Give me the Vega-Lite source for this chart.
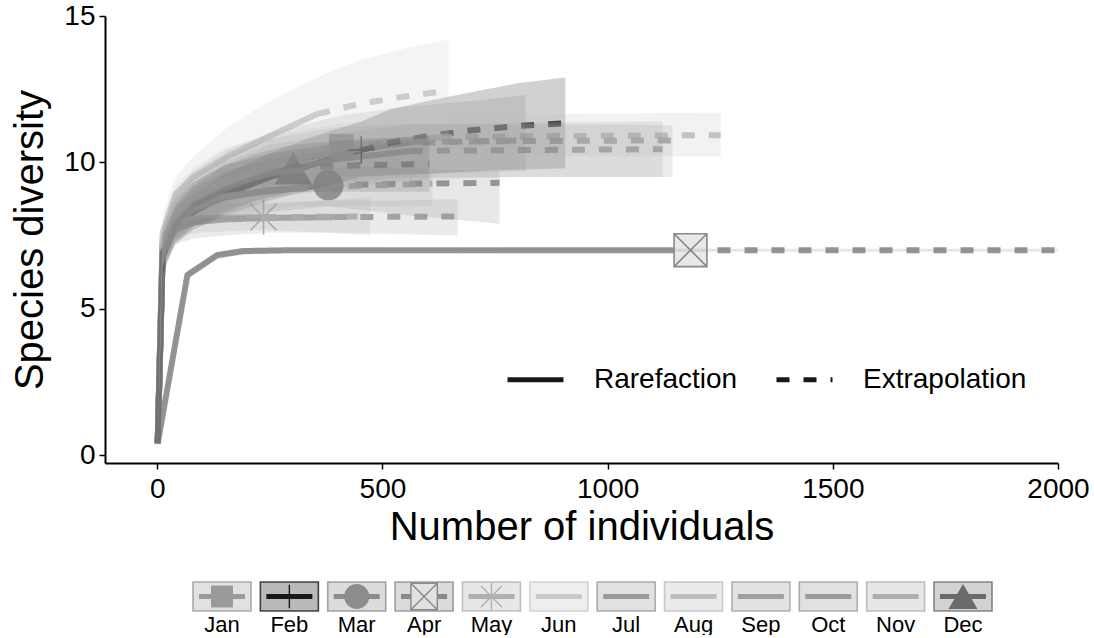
{
  "$schema": "https://vega.github.io/schema/vega-lite/v6.json",
  "padding": {"left": 10, "top": 2, "right": 5, "bottom": 0},
  "bounds": "flush",
  "spacing": 119,
  "config": {
    "font": "Liberation Sans",
    "view": {"stroke": null},
    "axis": {"labelColor": "#000", "titleColor": "#000", "titleFontWeight": "normal", "grid": false}
  },
  "resolve": {"scale": {"size": "independent", "x": "independent", "y": "independent"}},
  "datasets": {
    "curves": [
      {"m":"Jan","N":1,"S":0.4,"lo":0.3,"hi":0.5,"t":"rare"},
      {"m":"Jan","N":12,"S":7.2,"lo":6.6,"hi":7.8,"t":"rare"},
      {"m":"Jan","N":40,"S":8.4,"lo":7.8,"hi":9.0,"t":"rare"},
      {"m":"Jan","N":80,"S":9.0,"lo":8.3,"hi":9.7,"t":"rare"},
      {"m":"Jan","N":150,"S":9.6,"lo":8.8,"hi":10.4,"t":"rare"},
      {"m":"Jan","N":250,"S":10.1,"lo":9.2,"hi":11.0,"t":"rare"},
      {"m":"Jan","N":409,"S":10.55,"lo":9.5,"hi":11.6,"t":"obs"},
      {"m":"Jan","N":550,"S":10.65,"lo":9.6,"hi":11.9,"t":"extra"},
      {"m":"Jan","N":700,"S":10.72,"lo":9.65,"hi":12.1,"t":"extra"},
      {"m":"Jan","N":818,"S":10.75,"lo":9.7,"hi":12.3,"t":"extra"},

      {"m":"Feb","N":1,"S":0.4,"lo":0.3,"hi":0.5,"t":"rare"},
      {"m":"Feb","N":12,"S":6.8,"lo":6.2,"hi":7.4,"t":"rare"},
      {"m":"Feb","N":40,"S":7.8,"lo":7.2,"hi":8.4,"t":"rare"},
      {"m":"Feb","N":80,"S":8.3,"lo":7.7,"hi":8.9,"t":"rare"},
      {"m":"Feb","N":150,"S":8.9,"lo":8.2,"hi":9.6,"t":"rare"},
      {"m":"Feb","N":250,"S":9.5,"lo":8.7,"hi":10.3,"t":"rare"},
      {"m":"Feb","N":350,"S":9.95,"lo":9.1,"hi":10.9,"t":"rare"},
      {"m":"Feb","N":453,"S":10.42,"lo":9.5,"hi":11.4,"t":"obs"},
      {"m":"Feb","N":515,"S":10.66,"lo":9.55,"hi":11.8,"t":"extra"},
      {"m":"Feb","N":600,"S":10.9,"lo":9.6,"hi":12.1,"t":"extra"},
      {"m":"Feb","N":700,"S":11.1,"lo":9.7,"hi":12.4,"t":"extra"},
      {"m":"Feb","N":800,"S":11.24,"lo":9.75,"hi":12.7,"t":"extra"},
      {"m":"Feb","N":906,"S":11.34,"lo":9.8,"hi":12.9,"t":"extra"},

      {"m":"Mar","N":1,"S":0.4,"lo":0.3,"hi":0.5,"t":"rare"},
      {"m":"Mar","N":12,"S":7.0,"lo":6.4,"hi":7.6,"t":"rare"},
      {"m":"Mar","N":40,"S":7.9,"lo":7.3,"hi":8.5,"t":"rare"},
      {"m":"Mar","N":80,"S":8.4,"lo":7.8,"hi":9.0,"t":"rare"},
      {"m":"Mar","N":150,"S":8.8,"lo":8.1,"hi":9.5,"t":"rare"},
      {"m":"Mar","N":250,"S":9.05,"lo":8.3,"hi":9.8,"t":"rare"},
      {"m":"Mar","N":380,"S":9.22,"lo":8.5,"hi":9.9,"t":"obs"},
      {"m":"Mar","N":550,"S":9.27,"lo":8.2,"hi":9.8,"t":"extra"},
      {"m":"Mar","N":760,"S":9.3,"lo":7.9,"hi":9.7,"t":"extra"},

      {"m":"Apr","N":1,"S":0.4,"lo":0.35,"hi":0.45,"t":"rare"},
      {"m":"Apr","N":67,"S":6.15,"lo":6.0,"hi":6.3,"t":"rare"},
      {"m":"Apr","N":133,"S":6.83,"lo":6.7,"hi":6.95,"t":"rare"},
      {"m":"Apr","N":191,"S":6.97,"lo":6.85,"hi":7.08,"t":"rare"},
      {"m":"Apr","N":300,"S":7.0,"lo":6.92,"hi":7.08,"t":"rare"},
      {"m":"Apr","N":1184,"S":7.0,"lo":6.95,"hi":7.05,"t":"obs"},
      {"m":"Apr","N":1600,"S":7.0,"lo":6.95,"hi":7.05,"t":"extra"},
      {"m":"Apr","N":2000,"S":7.0,"lo":6.95,"hi":7.05,"t":"extra"},

      {"m":"May","N":1,"S":0.4,"lo":0.3,"hi":0.5,"t":"rare"},
      {"m":"May","N":12,"S":7.3,"lo":6.8,"hi":7.8,"t":"rare"},
      {"m":"May","N":44,"S":8.0,"lo":7.5,"hi":8.5,"t":"rare"},
      {"m":"May","N":100,"S":8.1,"lo":7.6,"hi":8.6,"t":"rare"},
      {"m":"May","N":236,"S":8.13,"lo":7.7,"hi":8.6,"t":"obs"},
      {"m":"May","N":360,"S":8.14,"lo":7.6,"hi":8.7,"t":"extra"},
      {"m":"May","N":472,"S":8.15,"lo":7.5,"hi":8.8,"t":"extra"},

      {"m":"Jun","N":1,"S":0.4,"lo":0.3,"hi":0.5,"t":"rare"},
      {"m":"Jun","N":12,"S":7.6,"lo":7.0,"hi":8.2,"t":"rare"},
      {"m":"Jun","N":40,"S":8.9,"lo":8.2,"hi":9.5,"t":"rare"},
      {"m":"Jun","N":80,"S":9.5,"lo":8.7,"hi":10.2,"t":"rare"},
      {"m":"Jun","N":156,"S":10.2,"lo":9.2,"hi":11.2,"t":"rare"},
      {"m":"Jun","N":250,"S":10.9,"lo":9.7,"hi":12.1,"t":"rare"},
      {"m":"Jun","N":355,"S":11.65,"lo":10.2,"hi":12.9,"t":"obs"},
      {"m":"Jun","N":450,"S":12.0,"lo":10.5,"hi":13.5,"t":"extra"},
      {"m":"Jun","N":550,"S":12.25,"lo":10.7,"hi":13.9,"t":"extra"},
      {"m":"Jun","N":647,"S":12.45,"lo":10.8,"hi":14.2,"t":"extra"},

      {"m":"Jul","N":1,"S":0.4,"lo":0.3,"hi":0.5,"t":"rare"},
      {"m":"Jul","N":12,"S":7.0,"lo":6.4,"hi":7.6,"t":"rare"},
      {"m":"Jul","N":40,"S":8.0,"lo":7.4,"hi":8.6,"t":"rare"},
      {"m":"Jul","N":80,"S":8.6,"lo":7.9,"hi":9.3,"t":"rare"},
      {"m":"Jul","N":150,"S":9.2,"lo":8.4,"hi":10.0,"t":"rare"},
      {"m":"Jul","N":250,"S":9.7,"lo":8.8,"hi":10.6,"t":"rare"},
      {"m":"Jul","N":400,"S":10.1,"lo":9.1,"hi":11.0,"t":"rare"},
      {"m":"Jul","N":561,"S":10.39,"lo":9.4,"hi":11.3,"t":"obs"},
      {"m":"Jul","N":800,"S":10.42,"lo":9.5,"hi":11.35,"t":"extra"},
      {"m":"Jul","N":1122,"S":10.45,"lo":9.5,"hi":11.4,"t":"extra"},

      {"m":"Aug","N":1,"S":0.4,"lo":0.3,"hi":0.5,"t":"rare"},
      {"m":"Aug","N":12,"S":7.4,"lo":6.9,"hi":7.9,"t":"rare"},
      {"m":"Aug","N":40,"S":8.6,"lo":8.0,"hi":9.2,"t":"rare"},
      {"m":"Aug","N":80,"S":9.2,"lo":8.6,"hi":9.8,"t":"rare"},
      {"m":"Aug","N":150,"S":9.8,"lo":9.1,"hi":10.5,"t":"rare"},
      {"m":"Aug","N":250,"S":10.2,"lo":9.5,"hi":10.9,"t":"rare"},
      {"m":"Aug","N":400,"S":10.55,"lo":9.8,"hi":11.3,"t":"rare"},
      {"m":"Aug","N":625,"S":10.86,"lo":10.1,"hi":11.6,"t":"obs"},
      {"m":"Aug","N":900,"S":10.9,"lo":10.2,"hi":11.65,"t":"extra"},
      {"m":"Aug","N":1251,"S":10.93,"lo":10.2,"hi":11.7,"t":"extra"},

      {"m":"Sep","N":1,"S":0.4,"lo":0.3,"hi":0.5,"t":"rare"},
      {"m":"Sep","N":12,"S":7.1,"lo":6.5,"hi":7.7,"t":"rare"},
      {"m":"Sep","N":40,"S":8.2,"lo":7.6,"hi":8.8,"t":"rare"},
      {"m":"Sep","N":80,"S":8.8,"lo":8.1,"hi":9.5,"t":"rare"},
      {"m":"Sep","N":150,"S":9.4,"lo":8.6,"hi":10.2,"t":"rare"},
      {"m":"Sep","N":250,"S":9.9,"lo":9.0,"hi":10.8,"t":"rare"},
      {"m":"Sep","N":400,"S":10.35,"lo":9.3,"hi":11.2,"t":"rare"},
      {"m":"Sep","N":572,"S":10.7,"lo":9.5,"hi":11.3,"t":"obs"},
      {"m":"Sep","N":850,"S":10.73,"lo":9.5,"hi":11.3,"t":"extra"},
      {"m":"Sep","N":1144,"S":10.75,"lo":9.5,"hi":11.27,"t":"extra"},

      {"m":"Oct","N":1,"S":0.4,"lo":0.3,"hi":0.5,"t":"rare"},
      {"m":"Oct","N":12,"S":6.9,"lo":6.4,"hi":7.4,"t":"rare"},
      {"m":"Oct","N":40,"S":7.7,"lo":7.2,"hi":8.2,"t":"rare"},
      {"m":"Oct","N":80,"S":7.95,"lo":7.4,"hi":8.5,"t":"rare"},
      {"m":"Oct","N":150,"S":8.05,"lo":7.5,"hi":8.6,"t":"rare"},
      {"m":"Oct","N":250,"S":8.1,"lo":7.6,"hi":8.6,"t":"rare"},
      {"m":"Oct","N":391,"S":8.13,"lo":7.6,"hi":8.7,"t":"obs"},
      {"m":"Oct","N":530,"S":8.14,"lo":7.55,"hi":8.7,"t":"extra"},
      {"m":"Oct","N":667,"S":8.15,"lo":7.5,"hi":8.75,"t":"extra"},

      {"m":"Nov","N":1,"S":0.4,"lo":0.3,"hi":0.5,"t":"rare"},
      {"m":"Nov","N":12,"S":7.1,"lo":6.5,"hi":7.7,"t":"rare"},
      {"m":"Nov","N":40,"S":8.1,"lo":7.5,"hi":8.7,"t":"rare"},
      {"m":"Nov","N":80,"S":8.5,"lo":7.9,"hi":9.1,"t":"rare"},
      {"m":"Nov","N":150,"S":8.85,"lo":8.2,"hi":9.5,"t":"rare"},
      {"m":"Nov","N":305,"S":9.1,"lo":8.5,"hi":9.8,"t":"obs"},
      {"m":"Nov","N":450,"S":9.2,"lo":8.5,"hi":9.95,"t":"extra"},
      {"m":"Nov","N":611,"S":9.27,"lo":8.5,"hi":10.08,"t":"extra"},

      {"m":"Dec","N":1,"S":0.4,"lo":0.3,"hi":0.5,"t":"rare"},
      {"m":"Dec","N":12,"S":6.9,"lo":6.3,"hi":7.5,"t":"rare"},
      {"m":"Dec","N":40,"S":7.9,"lo":7.3,"hi":8.5,"t":"rare"},
      {"m":"Dec","N":80,"S":8.5,"lo":7.8,"hi":9.2,"t":"rare"},
      {"m":"Dec","N":150,"S":9.1,"lo":8.3,"hi":9.9,"t":"rare"},
      {"m":"Dec","N":220,"S":9.5,"lo":8.7,"hi":10.3,"t":"rare"},
      {"m":"Dec","N":302,"S":9.8,"lo":9.0,"hi":10.6,"t":"obs"},
      {"m":"Dec","N":450,"S":9.9,"lo":9.0,"hi":10.8,"t":"extra"},
      {"m":"Dec","N":604,"S":9.95,"lo":9.0,"hi":10.9,"t":"extra"}
    ],
    "months": [
      {"m":"Jan"},{"m":"Feb"},{"m":"Mar"},{"m":"Apr"},{"m":"May"},{"m":"Jun"},
      {"m":"Jul"},{"m":"Aug"},{"m":"Sep"},{"m":"Oct"},{"m":"Nov"},{"m":"Dec"}
    ]
  },
  "vconcat": [
    {
      "width": 953,
      "height": 447,
      "data": {"name": "curves"},
      "encoding": {
        "x": {
          "field": "N", "type": "quantitative",
          "scale": {"domain": [-116, 2000], "nice": false, "zero": false},
          "title": "Number of individuals",
          "axis": {"values": [0, 500, 1000, 1500, 2000], "format": "d", "domainColor": "#000", "domainWidth": 2, "tickColor": "#000", "tickWidth": 1.5, "tickSize": 6, "labelFontSize": 28, "labelPadding": 6, "labelFlush": false, "titleFontSize": 40, "titlePadding": 4}
        }
      },
      "layer": [
        {
          "transform": [{"filter": "datum.t != 'extra'"}],
          "mark": {"type": "line", "strokeWidth": 6, "opacity": 0.9, "strokeCap": "butt"},
          "encoding": {
            "y": {"field": "S", "type": "quantitative",
              "scale": {"domain": [-0.27, 15], "nice": false, "zero": false},
              "title": "Species diversity",
              "axis": {"values": [0, 5, 10, 15], "domainColor": "#000", "domainWidth": 2, "tickColor": "#000", "tickWidth": 1.5, "tickSize": 6, "labelFontSize": 28, "labelPadding": 4, "labelFlush": false, "titleFontSize": 40, "titlePadding": 13}},
            "color": {"field": "m", "type": "nominal", "legend": null,
              "scale": {"domain": ["Jan","Feb","Mar","Apr","May","Jun","Jul","Aug","Sep","Oct","Nov","Dec"],
                "range": ["#9a9a9a","#1a1a1a","#8c8c8c","#888888","#b0b0b0","#c8c8c8","#9a9a9a","#bdbdbd","#a0a0a0","#9c9c9c","#aeaeae","#6a6a6a"]}},
            "strokeDash": {"datum": "Rarefaction", "type": "nominal",
              "scale": {"domain": ["Rarefaction", "Extrapolation"], "range": [[1, 0], [13, 14]]},
              "legend": {"title": null, "orient": "none", "legendX": 400, "legendY": 333, "direction": "horizontal", "symbolType": "stroke", "symbolStrokeWidth": 5, "symbolSize": 3136, "symbolStrokeColor": "#000", "labelFontSize": 28, "labelColor": "#000", "labelOffset": 28, "labelLimit": 0, "columnPadding": 28, "padding": 0}}
          }
        },
        {
          "transform": [{"filter": "datum.t != 'rare'"}],
          "mark": {"type": "line", "strokeWidth": 6, "opacity": 0.9, "strokeCap": "butt"},
          "encoding": {
            "y": {"field": "S", "type": "quantitative"},
            "color": {"field": "m", "type": "nominal", "legend": null},
            "strokeDash": {"datum": "Extrapolation", "type": "nominal"}
          }
        },
        {
          "transform": [{"filter": "datum.t == 'obs' && (datum.m == 'Jan' || datum.m == 'Mar' || datum.m == 'Dec')"}],
          "mark": {"type": "point", "filled": true, "opacity": 1},
          "encoding": {
            "y": {"field": "S", "type": "quantitative"},
            "color": {"field": "m", "type": "nominal", "legend": null},
            "shape": {"field": "m", "type": "nominal", "legend": null,
              "scale": {"domain": ["Jan","Feb","Mar","Apr","May","Dec"],
                "range": ["square", "M-1,0L1,0M0,-1L0,1", "circle", "M-1,-1L1,-1L1,1L-1,1ZM-1,-1L1,1M-1,1L1,-1", "M-1,0L1,0M0,-1L0,1M-0.75,-0.75L0.75,0.75M-0.75,0.75L0.75,-0.75", "triangle-up"]}},
            "size": {"field": "m", "type": "nominal", "legend": null,
              "scale": {"domain": ["Jan","Feb","Mar","Apr","May","Dec"], "range": [600, 1400, 620, 730, 950, 150]}}
          }
        },
        {
          "transform": [{"filter": "datum.t == 'obs' && (datum.m == 'Feb' || datum.m == 'Apr' || datum.m == 'May')"}],
          "mark": {"type": "point", "filled": false, "fill": "#e8e8e8", "strokeWidth": 1.6, "opacity": 1},
          "encoding": {
            "y": {"field": "S", "type": "quantitative"},
            "color": {"field": "m", "type": "nominal", "legend": null},
            "shape": {"field": "m", "type": "nominal", "legend": null},
            "size": {"field": "m", "type": "nominal", "legend": null}
          }
        },
        {
          "mark": {"type": "area", "opacity": 0.2},
          "encoding": {
            "y": {"field": "lo", "type": "quantitative"},
            "y2": {"field": "hi"},
            "fill": {"field": "m", "type": "nominal", "legend": null,
              "scale": {"domain": ["Jan","Feb","Mar","Apr","May","Jun","Jul","Aug","Sep","Oct","Nov","Dec"],
                "range": ["#9a9a9a","#1a1a1a","#8c8c8c","#888888","#b0b0b0","#c8c8c8","#9a9a9a","#bdbdbd","#a0a0a0","#9c9c9c","#aeaeae","#6a6a6a"]}}
          }
        }
      ]
    },
    {
      "width": 953,
      "height": 29,
      "data": {"name": "months"},
      "encoding": {
        "x": {"field": "m", "type": "nominal", "sort": null, "title": null,
          "scale": {"domain": ["Jan","Feb","Mar","Apr","May","Jun","Jul","Aug","Sep","Oct","Nov","Dec"], "range": [88, 887], "paddingInner": 0.139, "paddingOuter": 0},
          "axis": {"domain": false, "ticks": false, "labelAngle": 0, "labelFontSize": 22, "labelPadding": 3, "labelColor": "#000"}}
      },
      "layer": [
        {
          "mark": {"type": "bar", "fillOpacity": 0.3, "strokeOpacity": 0.8, "strokeWidth": 1.6},
          "encoding": {
            "color": {"field": "m", "type": "nominal", "legend": null},
            "stroke": {"field": "m", "type": "nominal", "legend": null,
              "scale": {"domain": ["Jan","Feb","Mar","Apr","May","Jun","Jul","Aug","Sep","Oct","Nov","Dec"],
                "range": ["#9a9a9a","#1a1a1a","#8c8c8c","#888888","#b0b0b0","#c8c8c8","#9a9a9a","#bdbdbd","#a0a0a0","#9c9c9c","#aeaeae","#6a6a6a"]}}
          }
        },
        {
          "mark": {"type": "tick", "orient": "horizontal", "thickness": 5, "size": 46, "opacity": 1},
          "encoding": {
            "color": {"field": "m", "type": "nominal", "legend": null}
          }
        },
        {
          "transform": [{"filter": "datum.m == 'Jan' || datum.m == 'Mar' || datum.m == 'Dec'"}],
          "mark": {"type": "point", "filled": true, "opacity": 1},
          "encoding": {
            "color": {"field": "m", "type": "nominal", "legend": null},
            "shape": {"field": "m", "type": "nominal", "legend": null},
            "size": {"field": "m", "type": "nominal", "legend": null,
              "scale": {"domain": ["Jan","Feb","Mar","Apr","May","Dec"], "range": [480, 841, 480, 520, 850, 650]}}
          }
        },
        {
          "transform": [{"filter": "datum.m == 'Feb' || datum.m == 'Apr' || datum.m == 'May'"}],
          "mark": {"type": "point", "filled": false, "fill": "#e2e2e2", "strokeWidth": 1.4, "opacity": 1},
          "encoding": {
            "color": {"field": "m", "type": "nominal", "legend": null},
            "shape": {"field": "m", "type": "nominal", "legend": null},
            "size": {"field": "m", "type": "nominal", "legend": null}
          }
        }
      ]
    }
  ]
}
